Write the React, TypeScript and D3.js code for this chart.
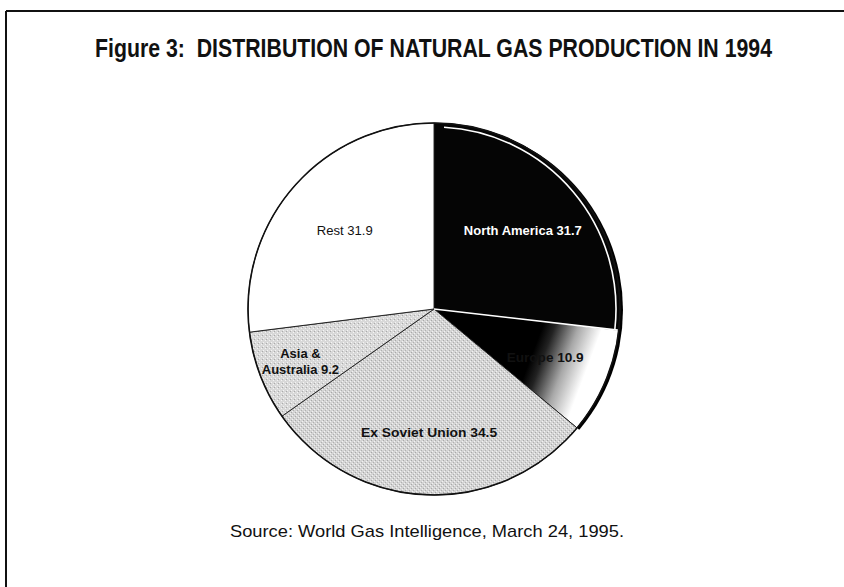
import React from "react";
import * as d3 from "d3";

const categories = ["North America", "Europe", "Ex Soviet Union", "Asia & Australia", "Rest"];
const values = [31.7, 10.9, 34.5, 9.2, 31.9];
const labelLines = [
  ["North America 31.7"],
  ["Europe 10.9"],
  ["Ex Soviet Union 34.5"],
  ["Asia &", "Australia 9.2"],
  ["Rest 31.9"],
];
const titleText = "Figure 3:  DISTRIBUTION OF NATURAL GAS PRODUCTION IN 1994";
const sourceText = "Source: World Gas Intelligence, March 24, 1995.";

const W = 844;
const H = 587;
const cx = 434;
const cy = 309;
const R = 186;

const fills = ["#050505", "url(#euroGrad)", "url(#stipple)", "url(#stipple2)", "#ffffff"];
const labelColors = ["#ffffff", "#111", "#111", "#111", "#111"];
const labelWeights = ["bold", "bold", "bold", "bold", "normal"];
const labelRadius = [0.64, 0.65, 0.66, 0.77, 0.64];
const labelWidths = [118, 77, 136, 0, 56];

export default function App() {
  const pie = d3.pie<number>().sort(null).value((d) => d);
  const arcs = pie(values);
  const arc = d3.arc<d3.PieArcDatum<number>>().innerRadius(0).outerRadius(R);

  const na = arcs[0];
  const eu = arcs[1];

  const p = d3.path();
  const ri = R - 4;
  const a0 = na.startAngle + 0.055;
  const a1 = na.endAngle;
  p.moveTo(Math.sin(a0) * ri, -Math.cos(a0) * ri);
  p.arc(0, 0, ri, a0 - Math.PI / 2, a1 - Math.PI / 2);
  const whiteArc = p.toString();
  const ex = Math.sin(na.endAngle) * (R - 1);
  const ey = -Math.cos(na.endAngle) * (R - 1);

  const clipArc = d3
    .arc<any>()
    .innerRadius(0)
    .outerRadius(R + 20)({ startAngle: 0, endAngle: eu.endAngle } as any) as string;

  const titleScale = 0.78;

  return (
    <div style={{ position: "absolute", left: 0, top: 0 }}>
      <svg width={W} height={H} viewBox={`0 0 ${W} ${H}`} style={{ display: "block", background: "#fff" }}>
        <defs>
          <linearGradient
            id="euroGrad"
            gradientUnits="userSpaceOnUse"
            x1={543 - cx}
            y1={325 - cy}
            x2={596 - cx}
            y2={345 - cy}
          >
            <stop offset="0" stopColor="#000" />
            <stop offset="0.2" stopColor="#222" />
            <stop offset="0.6" stopColor="#a8a8a8" />
            <stop offset="1" stopColor="#fff" />
          </linearGradient>
          <pattern id="stipple" width="4" height="4" patternUnits="userSpaceOnUse">
            <rect width="4" height="4" fill="#d4d4d4" />
            <rect x="0" y="0" width="1" height="1" fill="#f2f2f2" />
            <rect x="2" y="2" width="1" height="1" fill="#f2f2f2" />
            <rect x="1" y="3" width="1" height="1" fill="#a8a8a8" />
            <rect x="3" y="1" width="1" height="1" fill="#b0b0b0" />
          </pattern>
          <pattern id="stipple2" width="4" height="4" patternUnits="userSpaceOnUse">
            <rect width="4" height="4" fill="#d8d8d8" />
            <rect x="1" y="1" width="1" height="1" fill="#f4f4f4" />
            <rect x="3" y="3" width="1" height="1" fill="#f4f4f4" />
            <rect x="0" y="2" width="1" height="1" fill="#aaaaaa" />
          </pattern>
          <clipPath id="rimClip">
            <path d={clipArc} transform={`translate(${cx},${cy})`} />
          </clipPath>
        </defs>

        <line x1={6} y1={11} x2={W} y2={11} stroke="#111" strokeWidth={2} />
        <line x1={6} y1={11} x2={6} y2={H} stroke="#111" strokeWidth={2} />

        <g transform={`translate(95,57) scale(${titleScale},1)`}>
          <text
            x={0}
            y={0}
            textLength={677 / titleScale}
            lengthAdjust="spacingAndGlyphs"
            fontFamily="'Liberation Sans', Arial, sans-serif"
            fontWeight="bold"
            fontSize={25}
            fill="#111"
            style={{ whiteSpace: "pre" }}
          >
            {titleText}
          </text>
        </g>

        <circle cx={cx + 3} cy={cy + 1} r={R} fill="#000" clipPath="url(#rimClip)" />

        <g transform={`translate(${cx},${cy})`}>
          {arcs.map((a, i) => (
            <path key={categories[i]} d={arc(a) as string} fill={fills[i]} stroke="#1a1a1a" strokeWidth={0.9} />
          ))}
          <path d={whiteArc} fill="none" stroke="#fff" strokeWidth={1.6} />
          <line x1={0} y1={0} x2={ex} y2={ey} stroke="#fff" strokeWidth={1.6} />
          <circle r={R} fill="none" stroke="#111" strokeWidth={1.6} />

          {arcs.map((a, i) => {
            const mid = (a.startAngle + a.endAngle) / 2;
            const rr = R * labelRadius[i];
            const lx = Math.sin(mid) * rr;
            const ly = -Math.cos(mid) * rr;
            const lines = labelLines[i];
            return (
              <g key={"l" + i}>
                {lines.map((t, j) => (
                  <text
                    key={j}
                    x={lx}
                    y={ly + 5 + (j - (lines.length - 1) / 2) * 16}
                    textAnchor="middle"
                    fontFamily="'Liberation Sans', Arial, Helvetica, sans-serif"
                    fontWeight={labelWeights[i]}
                    fontSize={13}
                    fill={labelColors[i]}
                    {...(lines.length === 1 && labelWidths[i]
                      ? { textLength: labelWidths[i], lengthAdjust: "spacingAndGlyphs" }
                      : {})}
                  >
                    {t}
                  </text>
                ))}
              </g>
            );
          })}
        </g>

        <text
          x={230}
          y={537}
          textLength={394}
          lengthAdjust="spacingAndGlyphs"
          fontFamily="'Liberation Sans', Arial, sans-serif"
          fontSize={17}
          fill="#111"
        >
          {sourceText}
        </text>
      </svg>
    </div>
  );
}
